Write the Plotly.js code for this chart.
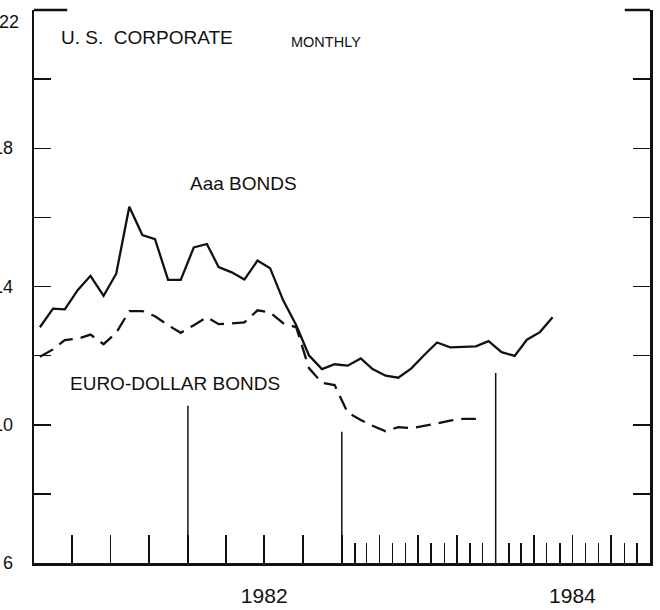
<!DOCTYPE html>
<html>
<head>
<meta charset="utf-8">
<script src="https://cdn.plot.ly/plotly-3.0.1.min.js"></script>
<style>html,body{margin:0;padding:0;background:#fff;}#chart{width:660px;height:610px;}</style>
</head>
<body>
<div id="chart"></div>
<script>
// Monthly observations (mid-month), Jan 1981 - May 1984
var months = [
  '1981-01-15','1981-02-15','1981-03-15','1981-04-15','1981-05-15','1981-06-15',
  '1981-07-15','1981-08-15','1981-09-15','1981-10-15','1981-11-15','1981-12-15',
  '1982-01-15','1982-02-15','1982-03-15','1982-04-15','1982-05-15','1982-06-15',
  '1982-07-15','1982-08-15','1982-09-15','1982-10-15','1982-11-15','1982-12-15',
  '1983-01-15','1983-02-15','1983-03-15','1983-04-15','1983-05-15','1983-06-15',
  '1983-07-15','1983-08-15','1983-09-15','1983-10-15','1983-11-15','1983-12-15',
  '1984-01-15','1984-02-15','1984-03-15','1984-04-15','1984-05-15'
];
var aaaBonds = [
  12.82, 13.36, 13.34, 13.90, 14.31, 13.73, 14.37, 16.31, 15.49, 15.37, 14.19, 14.19,
  15.13, 15.23, 14.56, 14.41, 14.20, 14.75, 14.53, 13.60, 12.88, 12.01, 11.61, 11.75,
  11.71, 11.92, 11.61, 11.42, 11.36, 11.63, 12.01, 12.38, 12.24, 12.25, 12.27, 12.42,
  12.10, 11.99, 12.46, 12.68, 13.11
];
var euroDollarBonds = [
  11.97, 12.18, 12.45, 12.49, 12.61, 12.33, 12.66, 13.29, 13.29, 13.14, 12.88, 12.66,
  12.88, 13.11, 12.91, 12.94, 12.96, 13.31, 13.25, 12.94, 12.82, 11.64, 11.21, 11.15,
  10.35, 10.14, 9.97, 9.81, 9.93, 9.90, 9.96, 10.04, 10.12, 10.17, 10.17
];
// Year separator lines: date and height (percent)
var yearLineDates = ['1982-01-01', '1983-01-01', '1984-01-01'];
var yearLineTops = [10.55, 9.80, 11.50];
// Axis ticks
var quarterTicks = [
  '1981-04-01','1981-07-01','1981-10-01','1982-01-01','1982-04-01','1982-07-01','1982-10-01',
  '1983-01-01','1983-04-01','1983-07-01','1983-10-01','1984-01-01','1984-04-01','1984-07-01','1984-10-01'
];
var quarterTickText = ['','','','','','1982','','','','','','','','1984',''];
var monthTicks = [
  '1983-02-01','1983-03-01','1983-05-01','1983-06-01','1983-08-01','1983-09-01','1983-11-01','1983-12-01',
  '1984-02-01','1984-03-01','1984-05-01','1984-06-01','1984-08-01','1984-09-01','1984-11-01','1984-12-01'
];
var yTickVals = [8, 10, 12, 14, 16, 18, 20];
var yLabelVals = [22, 18, 14, 10, 6];
var yLabelText = ['22', '18', '14', '10', '6'];

var FONT = '"Liberation Sans", Arial, Helvetica, sans-serif';
var INK = '#111';

var traces = [
  {x: months, y: aaaBonds, type: 'scatter', mode: 'lines', name: 'Aaa BONDS',
   line: {color: INK, width: 2.3}, hoverinfo: 'x+y'},
  {x: months.slice(0, euroDollarBonds.length), y: euroDollarBonds, type: 'scatter', mode: 'lines',
   name: 'EURO-DOLLAR BONDS', line: {color: INK, width: 2.3, dash: '15px,8px'}, hoverinfo: 'x+y'}
];

var shapes = [];
for (var i = 0; i < yearLineDates.length; i++) {
  shapes.push({type: 'line', xref: 'x', yref: 'y', x0: yearLineDates[i], x1: yearLineDates[i],
    y0: 6, y1: yearLineTops[i], line: {color: INK, width: 1.5}});
}
// partial top border at the corners
shapes.push({type: 'line', xref: 'paper', yref: 'paper', x0: 0, x1: 0.054, y0: 1, y1: 1, line: {color: INK, width: 2.5}});
shapes.push({type: 'line', xref: 'paper', yref: 'paper', x0: 0.959, x1: 1, y0: 1, y1: 1, line: {color: INK, width: 2.5}});

var annotations = [
  {text: 'U. S.  CORPORATE', xref: 'paper', yref: 'paper', x: 0.0406, y: 0.951, xanchor: 'left', yanchor: 'middle', showarrow: false, font: {family: FONT, size: 19, color: INK}},
  {text: 'MONTHLY', xref: 'paper', yref: 'paper', x: 0.414, y: 0.942, xanchor: 'left', yanchor: 'middle', showarrow: false, font: {family: FONT, size: 14.5, color: INK}},
  {text: 'Aaa BONDS', xref: 'paper', yref: 'paper', x: 0.25, y: 0.687, xanchor: 'left', yanchor: 'middle', showarrow: false, font: {family: FONT, size: 19, color: INK}},
  {text: 'EURO-DOLLAR BONDS', xref: 'paper', yref: 'paper', x: 0.0552, y: 0.324, xanchor: 'left', yanchor: 'middle', showarrow: false, font: {family: FONT, size: 19, color: INK}}
];
for (var j = 0; j < yLabelVals.length; j++) {
  annotations.push({text: yLabelText[j], xref: 'paper', yref: 'y', x: 0, y: yLabelVals[j],
    xanchor: 'right', yanchor: 'middle', xshift: (j === 0 ? -13 : -19), yshift: (j === 0 ? -12 : 0),
    showarrow: false, font: {family: FONT, size: 18, color: INK}});
}

var layout = {
  width: 660, height: 610,
  margin: {l: 34, r: 10, t: 10, b: 47, pad: 0},
  paper_bgcolor: '#fff', plot_bgcolor: '#fff',
  showlegend: false,
  font: {family: FONT, color: INK},
  xaxis: {
    type: 'date', range: ['1981-01-01', '1985-01-01'],
    showgrid: false, zeroline: false,
    showline: true, linecolor: INK, linewidth: 2.5, mirror: false,
    tickmode: 'array', tickvals: quarterTicks, ticktext: quarterTickText,
    ticks: 'inside', ticklen: 28, tickwidth: 1.5, tickcolor: INK,
    ticklabelstandoff: 12,
    tickfont: {family: FONT, size: 21, color: INK},
    minor: {tickmode: 'array', tickvals: monthTicks, ticks: 'inside', ticklen: 20, tickwidth: 1.5, tickcolor: INK, showgrid: false}
  },
  yaxis: {
    range: [6, 22], showgrid: false, zeroline: false,
    showline: true, linecolor: INK, linewidth: 2.5, mirror: 'ticks',
    tickmode: 'array', tickvals: yTickVals,
    ticks: 'inside', ticklen: 17, tickwidth: 1.5, tickcolor: INK,
    showticklabels: false
  },
  shapes: shapes,
  annotations: annotations
};

Plotly.newPlot('chart', traces, layout, {staticPlot: true, displayModeBar: false});
</script>
</body>
</html>
